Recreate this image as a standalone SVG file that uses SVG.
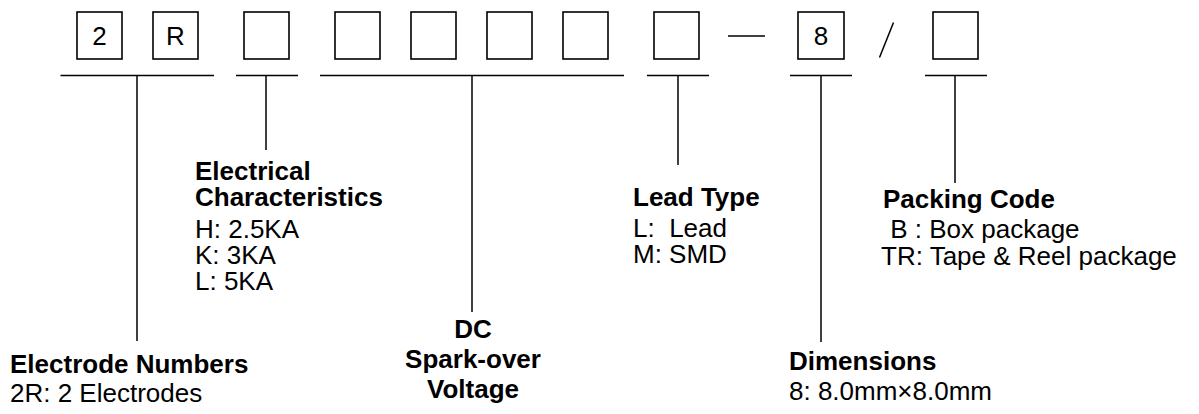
<svg xmlns="http://www.w3.org/2000/svg" width="1199" height="414" viewBox="0 0 1199 414">
<style>
.box{fill:#fff;stroke:#000;stroke-width:1.6}
.ln{stroke:#000;stroke-width:1.5;fill:none}
.t{font-family:"Liberation Sans",Arial,sans-serif;font-size:26px;fill:#000}
.b{font-weight:bold}
.c{text-anchor:middle}
</style>
<rect width="1199" height="414" fill="#fff"/>
<g id="code">
<g id="box1"><rect class="box" x="77" y="12" width="45" height="47"/><text class="t c" x="99.5" y="45">2</text></g>
<g id="box2"><rect class="box" x="153" y="12" width="45" height="47"/><text class="t c" x="175.5" y="45">R</text></g>
<g id="box3"><rect class="box" x="244" y="12" width="45" height="47"/></g>
<g id="box4"><rect class="box" x="335" y="12" width="45" height="47"/></g>
<g id="box5"><rect class="box" x="411" y="12" width="45" height="47"/></g>
<g id="box6"><rect class="box" x="487" y="12" width="45" height="47"/></g>
<g id="box7"><rect class="box" x="563" y="12" width="45" height="47"/></g>
<g id="box8"><rect class="box" x="654" y="12" width="45" height="47"/></g>
<g id="dash"><line class="ln" x1="728" y1="36" x2="765" y2="36"/></g>
<g id="box9"><rect class="box" x="798" y="12" width="46" height="47"/><text class="t c" x="821" y="45">8</text></g>
<g id="slash"><line class="ln" x1="879.5" y1="57.5" x2="893.5" y2="22.5"/></g>
<g id="box10"><rect class="box" x="933" y="12" width="45" height="47"/></g>
</g>
<g id="connectors">
<line class="ln" x1="60.5" y1="75.5" x2="214" y2="75.5"/>
<line class="ln" x1="137" y1="75.5" x2="137" y2="341"/>
<line class="ln" x1="236" y1="75.5" x2="298" y2="75.5"/>
<line class="ln" x1="266" y1="75.5" x2="266" y2="150"/>
<line class="ln" x1="320" y1="75.5" x2="624" y2="75.5"/>
<line class="ln" x1="472" y1="75.5" x2="472" y2="312"/>
<line class="ln" x1="647" y1="75.5" x2="709" y2="75.5"/>
<line class="ln" x1="678" y1="75.5" x2="678" y2="165"/>
<line class="ln" x1="790" y1="75.5" x2="852" y2="75.5"/>
<line class="ln" x1="821" y1="75.5" x2="821" y2="342"/>
<line class="ln" x1="925" y1="75.5" x2="987" y2="75.5"/>
<line class="ln" x1="955" y1="75.5" x2="955" y2="183"/>
</g>
<g id="electrode">
<text class="t b" x="10" y="373">Electrode Numbers</text>
<text class="t" x="10" y="402">2R: 2 Electrodes</text>
</g>
<g id="electrical">
<text class="t b" x="195" y="180">Electrical</text>
<text class="t b" x="195" y="206">Characteristics</text>
<text class="t" x="195" y="238">H: 2.5KA</text>
<text class="t" x="195" y="264">K: 3KA</text>
<text class="t" x="195" y="290">L: 5KA</text>
</g>
<g id="dc">
<text class="t b c" x="473" y="338">DC</text>
<text class="t b c" x="473" y="368">Spark-over</text>
<text class="t b c" x="473" y="398">Voltage</text>
</g>
<g id="lead">
<text class="t b" x="633" y="206">Lead Type</text>
<text class="t" x="633" y="237" xml:space="preserve">L:  Lead</text>
<text class="t" x="633" y="263">M: SMD</text>
</g>
<g id="dimensions">
<text class="t b" x="789" y="370">Dimensions</text>
<text class="t" x="789" y="400">8: 8.0mm×8.0mm</text>
</g>
<g id="packing">
<text class="t b" x="883" y="208">Packing Code</text>
<text class="t" x="883" y="238" xml:space="preserve"> B : Box package</text>
<text class="t" x="881" y="265">TR: Tape &amp; Reel package</text>
</g>
</svg>
